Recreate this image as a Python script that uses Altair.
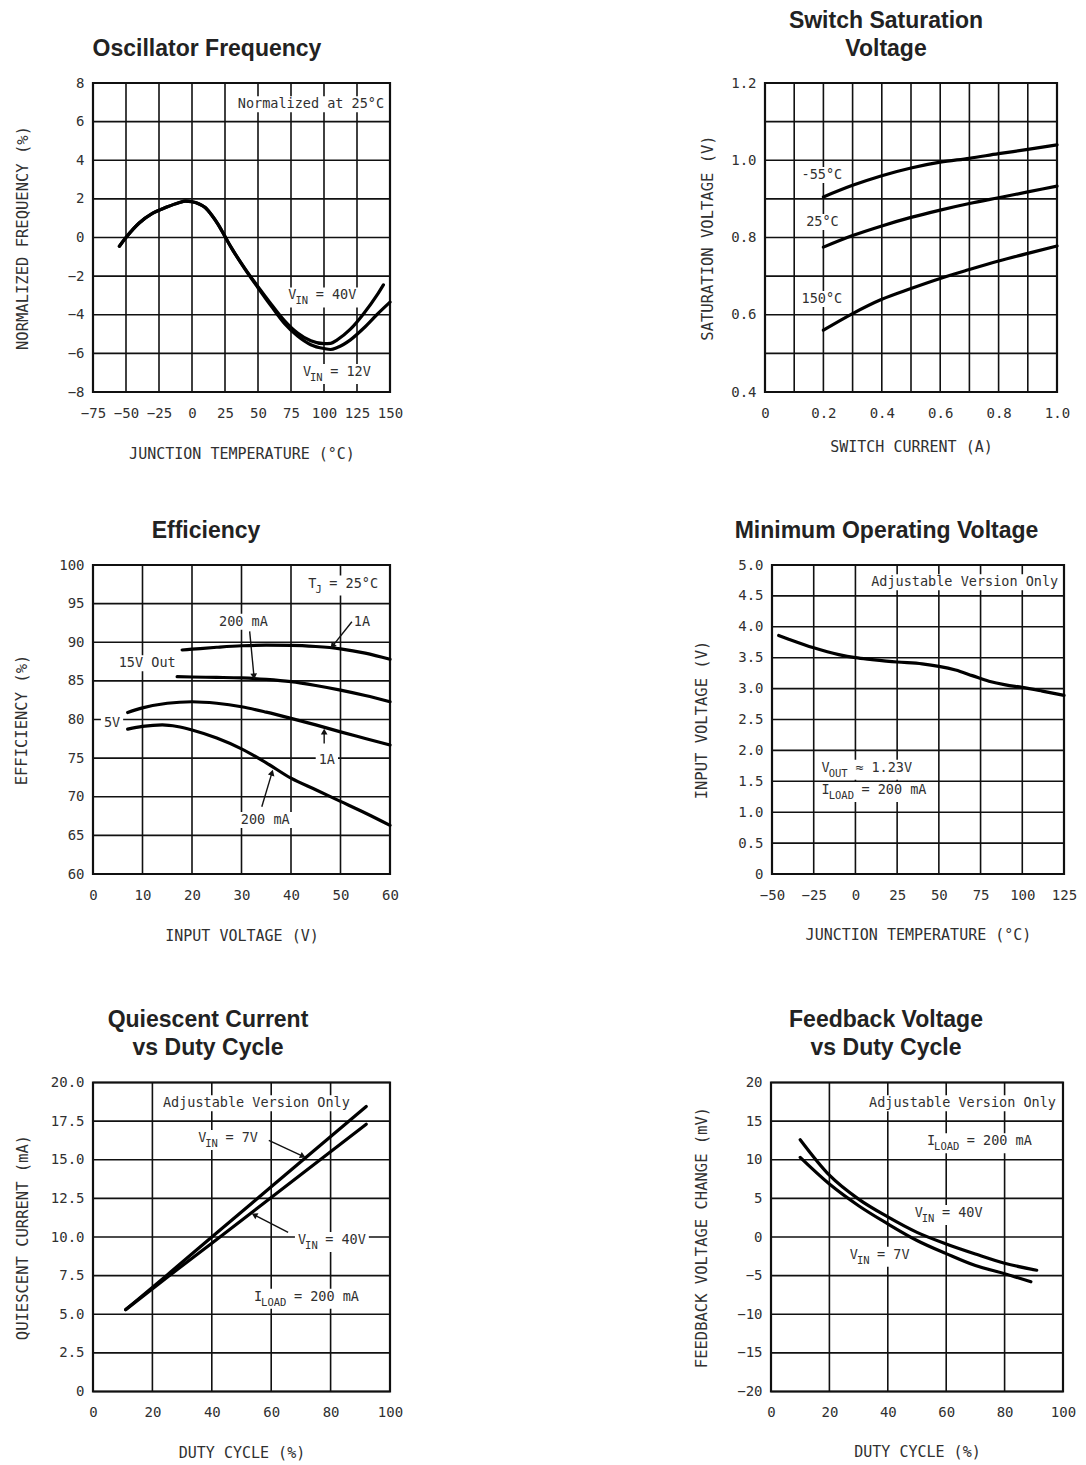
import math
import altair as alt
import pandas as pd

H = 309
WL, WR = 297, 292
MONO = "DejaVu Sans Mono"
SANS = "Liberation Sans"
INK = "#111111"
TXT = "#303030"
TS, SS = 13.5, 10.5
CW, CWS = 0.602 * TS, 0.602 * SS

# ---------------- data ----------------
# Oscillator Frequency
OSC_X_40V = [-55, -50, -40, -30, -20, -10, -5, 0, 5, 10, 15, 20, 25, 30, 40, 50, 60, 70, 80, 90, 100, 105, 110, 120, 130, 140, 145]
OSC_Y_40V = [-0.45, 0.0, 0.75, 1.25, 1.55, 1.8, 1.88, 1.85, 1.75, 1.55, 1.15, 0.65, 0.05, -0.55, -1.6, -2.55, -3.45, -4.3, -4.95, -5.35, -5.5, -5.48, -5.3, -4.75, -3.95, -3.0, -2.45]
OSC_X_12V = [-55, -50, -40, -30, -20, -10, -5, 0, 5, 10, 15, 20, 25, 30, 40, 50, 60, 70, 80, 90, 100, 105, 110, 120, 130, 140, 150]
OSC_Y_12V = [-0.45, 0.0, 0.75, 1.25, 1.55, 1.8, 1.88, 1.85, 1.75, 1.55, 1.15, 0.65, 0.05, -0.55, -1.62, -2.6, -3.55, -4.45, -5.1, -5.55, -5.75, -5.8, -5.7, -5.3, -4.7, -4.0, -3.35]

# Switch Saturation Voltage
SAT_I = [0.2, 0.3, 0.4, 0.5, 0.6, 0.7, 0.8, 0.9, 1.0]
SAT_M55 = [0.905, 0.935, 0.96, 0.98, 0.995, 1.005, 1.017, 1.028, 1.04]
SAT_25 = [0.775, 0.805, 0.83, 0.852, 0.871, 0.888, 0.903, 0.918, 0.933]
SAT_150 = [0.56, 0.603, 0.64, 0.668, 0.694, 0.717, 0.739, 0.759, 0.778]

# Efficiency
EFF_V_15_1A = [18, 20, 25, 30, 35, 40, 45, 50, 55, 60]
EFF_15_1A = [89.0, 89.1, 89.35, 89.55, 89.62, 89.6, 89.45, 89.15, 88.6, 87.8]
EFF_V_15_200 = [17, 20, 25, 30, 35, 40, 45, 50, 55, 60]
EFF_15_200 = [85.55, 85.5, 85.45, 85.38, 85.2, 84.9, 84.4, 83.8, 83.1, 82.3]
EFF_V_5_1A = [7, 10, 15, 20, 25, 30, 35, 40, 45, 50, 55, 60]
EFF_5_1A = [80.9, 81.5, 82.1, 82.3, 82.1, 81.65, 80.95, 80.15, 79.3, 78.4, 77.55, 76.7]
EFF_V_5_200 = [7, 10, 14, 17, 20, 25, 30, 35, 40, 45, 50, 55, 60]
EFF_5_200 = [78.75, 79.1, 79.3, 79.1, 78.65, 77.6, 76.2, 74.4, 72.4, 70.9, 69.4, 67.9, 66.3]

# Minimum Operating Voltage
MOV_T = [-46, -40, -25, -10, 0, 10, 25, 40, 50, 60, 70, 80, 90, 100, 112, 125]
MOV_V = [3.86, 3.8, 3.66, 3.55, 3.5, 3.47, 3.43, 3.4, 3.36, 3.3, 3.21, 3.12, 3.06, 3.02, 2.96, 2.89]

# Quiescent Current vs Duty Cycle
QC_D = [11, 25, 40, 60, 92]
QC_7V = [5.3, 7.55, 10.0, 13.25, 18.45]
QC_40V = [5.3, 7.4, 9.6, 12.55, 17.3]

# Feedback Voltage vs Duty Cycle
FB_D_40 = [10, 20, 30, 40, 50, 60, 70, 80, 91]
FB_40V = [12.6, 8.0, 4.9, 2.6, 0.6, -0.9, -2.2, -3.4, -4.3]
FB_D_7 = [10, 20, 30, 40, 50, 60, 70, 80, 89]
FB_7V = [10.3, 6.85, 4.05, 1.7, -0.45, -2.15, -3.7, -4.75, -5.8]

# annotations: plain (x, y, text, align) ; subscripted (x, y, main, sub, rest)
P1_PLAIN = [(145.5, 6.9, "Normalized at 25°C", "right")]
P1_SUBS = [(73, -3.0, "V", "IN", "= 40V"), (84, -6.96, "V", "IN", "= 12V")]
P2_PLAIN = [(0.125, 0.962, "-55°C", "left"), (0.141, 0.84, "25°C", "left"), (0.125, 0.641, "150°C", "left")]
P3_PLAIN = [(30.4, 92.66, "200 mA", "center"), (52.7, 92.66, "1A", "left"),
            (5.2, 87.27, "15V Out", "left"), (2.2, 79.6, "5V", "left"),
            (45.6, 74.76, "1A", "left"), (34.8, 67.0, "200 mA", "center")]
P3_SUBS = [(43.5, 97.6, "T", "J", "= 25°C")]
P3_ARROWS = [(31.65, 91.4, 32.5, 85.7), (52.3, 92.66, 48.5, 89.6),
             (46.7, 76.9, 46.7, 78.3), (34.1, 68.7, 36.1, 73.0)]
P4_PLAIN = [(121.5, 4.72, "Adjustable Version Only", "right")]
P4_SUBS = [(-20.3, 1.72, "V", "OUT", "≈ 1.23V"), (-20.3, 1.36, "I", "LOAD", "= 200 mA")]
P5_PLAIN = [(55, 18.65, "Adjustable Version Only", "center")]
P5_SUBS = [(35.4, 16.4, "V", "IN", "= 7V"), (69, 9.8, "V", "IN", "= 40V"), (54.2, 6.13, "I", "LOAD", "= 200 mA")]
P5_ARROWS = [(59.2, 16.25, 70.4, 15.25), (65.7, 10.3, 54.6, 11.4)]
P6_PLAIN = [(97.6, 17.3, "Adjustable Version Only", "right")]
P6_SUBS = [(53.4, 12.4, "I", "LOAD", "= 200 mA"), (49.2, 3.1, "V", "IN", "= 40V"), (27, -2.3, "V", "IN", "= 7V")]


def steps(a, b, s, nd=2):
    n = int(round((b - a) / s))
    return [round(a + i * s, nd) for i in range(n + 1)]


def series_df(pairs):
    frames = [pd.DataFrame({"x": xs, "y": ys, "s": name}) for name, xs, ys in pairs]
    return pd.concat(frames, ignore_index=True)


def label_items(plain, subs):
    items = []
    for x, y, t, align in plain:
        items.append(dict(x=x, y=y, t=t, align=align, dx=0, dy=0, size=TS))
    for x, y, main, sub, rest in subs:
        items.append(dict(x=x, y=y, t=main, align="left", dx=0, dy=0, size=TS))
        items.append(dict(x=x, y=y, t=sub, align="left", dx=len(main) * CW - 1, dy=6, size=SS))
        items.append(dict(x=x, y=y, t=rest, align="left",
                          dx=len(main) * CW + len(sub) * CWS + 0.8 * CW, dy=0, size=TS))
    return items


def box_rows(plain, subs, xdom, ydom, W):
    kx = (xdom[1] - xdom[0]) / W
    ky = (ydom[1] - ydom[0]) / H
    rows = []
    for x, y, t, align in plain:
        w = len(t) * CW
        if align == "left":
            l, r = 0, w
        elif align == "right":
            l, r = -w, 0
        else:
            l, r = -w / 2, w / 2
        rows.append(dict(x=x + (l - 3) * kx, x2=x + (r + 3) * kx, y=y - 8 * ky, y2=y + 8 * ky))
    for x, y, main, sub, rest in subs:
        w = len(main) * CW + len(sub) * CWS + 0.8 * CW + len(rest) * CW
        rows.append(dict(x=x - 3 * kx, x2=x + (w + 3) * kx, y=y - 12 * ky, y2=y + 8 * ky))
    return rows


def panel(title, tdx, W, pairs, xdom, ydom, xvals, yvals, xtitle, ytitle, ytx, xty,
          xlab=None, ylab=None, plain=(), subs=(), arrows=()):
    xs = alt.Scale(domain=xdom, nice=False, zero=False)
    ys = alt.Scale(domain=ydom, nice=False, zero=False)
    xkw = dict(values=xvals, title=xtitle, titleX=W / 2, titleY=xty, titleBaseline="middle", labelPadding=14)
    ykw = dict(values=yvals, title=ytitle, titleX=ytx, titleY=H / 2, titleBaseline="middle", labelPadding=9,
               titleFontSize=15.5)
    if xlab:
        xkw["labelExpr"] = xlab
    if ylab:
        ykw["labelExpr"] = ylab
    xaxis = alt.Axis(**xkw)
    yaxis = alt.Axis(**ykw)

    def X(f):
        return alt.X(f, scale=xs, axis=xaxis)

    def Y(f):
        return alt.Y(f, scale=ys, axis=yaxis)

    # grid drawn as rules so that label boxes can mask it
    vgrid = alt.Chart(pd.DataFrame({"v": xvals})).mark_rule(color=INK, strokeWidth=1.6).encode(
        x=X("v:Q"), y=alt.value(0), y2=alt.value(H))
    hgrid = alt.Chart(pd.DataFrame({"v": yvals})).mark_rule(color=INK, strokeWidth=1.6).encode(
        y=Y("v:Q"), x=alt.value(0), x2=alt.value(W))
    layers = [vgrid, hgrid]
    brows = box_rows(plain, subs, xdom, ydom, W)
    if brows:
        layers.append(alt.Chart(pd.DataFrame(brows)).mark_rect(color="white", opacity=1).encode(
            x=X("x:Q"), x2="x2:Q", y=Y("y:Q"), y2="y2:Q"))
    texts = []
    for it in label_items(plain, subs):
        df = pd.DataFrame({"x": [it["x"]], "y": [it["y"]], "t": [it["t"]]})
        enc = dict(x=X("x:Q"), y=Y("y:Q"), text=alt.Text("t:N"))
        kw = dict(font=MONO, fontSize=it["size"], align=it["align"], baseline="middle", dx=it["dx"], dy=it["dy"])
        texts.append(alt.Chart(df).mark_text(color=TXT, **kw).encode(**enc))
    lines = alt.Chart(series_df(pairs)).mark_line(color="black", strokeWidth=3.2, interpolate="monotone",
                                                  strokeCap="round").encode(
        x=X("x:Q"), y=Y("y:Q"), detail="s:N")
    layers.append(lines)
    if arrows:
        rows = []
        for x1, y1, x2, y2 in arrows:
            dxp = (x2 - x1) / (xdom[1] - xdom[0]) * W
            dyp = -(y2 - y1) / (ydom[1] - ydom[0]) * H
            ang = math.degrees(math.atan2(dxp, -dyp)) % 360
            rows.append(dict(x=x1, y=y1, x2=x2, y2=y2, a=ang))
        adf = pd.DataFrame(rows)
        rules = alt.Chart(adf).mark_rule(color=INK, strokeWidth=1.4).encode(
            x=X("x:Q"), y=Y("y:Q"), x2="x2:Q", y2="y2:Q")
        heads = alt.Chart(adf).mark_point(shape="triangle", filled=True, size=45, color=INK, opacity=1).encode(
            x=X("x2:Q"), y=Y("y2:Q"), angle=alt.Angle("a:Q", scale=None))
        layers += [rules, heads]
    layers += texts
    return alt.layer(*layers).properties(
        width=W, height=H, title=alt.TitleParams(text=title, dx=tdx, frame="group"))


ZERO_1F = "datum.value == 0 ? '0' : format(datum.value, '.1f')"
EVEN_X = "(round(datum.value*10) % 2 == 0) ? (datum.value == 0 ? '0' : format(datum.value, '.1f')) : ''"
EVEN_Y = "(round(datum.value*10) % 2 == 0) ? format(datum.value, '.1f') : ''"

p1 = panel([" ", "Oscillator Frequency"], -34.5, WL,
           [("40V", OSC_X_40V, OSC_Y_40V), ("12V", OSC_X_12V, OSC_Y_12V)],
           [-75, 150], [-8, 8], steps(-75, 150, 25), steps(-8, 8, 2),
           "JUNCTION TEMPERATURE (°C)", "NORMALIZED FREQUENCY (%)", -71, 61,
           plain=P1_PLAIN, subs=P1_SUBS)
p2 = panel(["Switch Saturation", "Voltage"], -25, WR,
           [("-55", SAT_I, SAT_M55), ("25", SAT_I, SAT_25), ("150", SAT_I, SAT_150)],
           [0, 1], [0.4, 1.2], steps(0, 1, 0.1), steps(0.4, 1.2, 0.1),
           "SWITCH CURRENT (A)", "SATURATION VOLTAGE (V)", -58, 54,
           xlab=EVEN_X, ylab=EVEN_Y, plain=P2_PLAIN)
p3 = panel([" ", "Efficiency"], -35.5, WL,
           [("a", EFF_V_15_1A, EFF_15_1A), ("b", EFF_V_15_200, EFF_15_200),
            ("c", EFF_V_5_1A, EFF_5_1A), ("d", EFF_V_5_200, EFF_5_200)],
           [0, 60], [60, 100], steps(0, 60, 10), steps(60, 100, 5),
           "INPUT VOLTAGE (V)", "EFFICIENCY (%)", -72, 61,
           plain=P3_PLAIN, subs=P3_SUBS, arrows=P3_ARROWS)
p4 = panel([" ", "Minimum Operating Voltage"], -31.5, WR,
           [("v", MOV_T, MOV_V)],
           [-50, 125], [0, 5], steps(-50, 125, 25), steps(0, 5, 0.5),
           "JUNCTION TEMPERATURE (°C)", "INPUT VOLTAGE (V)", -71, 60,
           ylab=ZERO_1F, plain=P4_PLAIN, subs=P4_SUBS)
p5 = panel(["Quiescent Current", "vs Duty Cycle"], -33.5, WL,
           [("7V", QC_D, QC_7V), ("40V", QC_D, QC_40V)],
           [0, 100], [0, 20], steps(0, 100, 20), steps(0, 20, 2.5),
           "DUTY CYCLE (%)", "QUIESCENT CURRENT (mA)", -71, 61,
           ylab=ZERO_1F, plain=P5_PLAIN, subs=P5_SUBS, arrows=P5_ARROWS)
p6 = panel(["Feedback Voltage", "vs Duty Cycle"], -31, WR,
           [("40V", FB_D_40, FB_40V), ("7V", FB_D_7, FB_7V)],
           [0, 100], [-20, 20], steps(0, 100, 20), steps(-20, 20, 5),
           "DUTY CYCLE (%)", "FEEDBACK VOLTAGE CHANGE (mV)", -70, 60,
           plain=P6_PLAIN, subs=P6_SUBS)

row1 = alt.hconcat(p1, p2, spacing=294)
row2 = alt.hconcat(p3, p4, spacing=292)
row3 = alt.hconcat(p5, p6, spacing=288)

chart = alt.vconcat(row1, alt.vconcat(row2, row3, spacing=62.5), spacing=27).configure(
    background="white", padding={"left": 4, "top": 0, "right": 0, "bottom": 0}
).configure_view(
    stroke=INK, strokeWidth=2.2
).configure_axis(
    grid=False, domain=False, ticks=False,
    labelFont=MONO, labelFontSize=14, labelColor=TXT, labelOverlap=False, labelFlush=False,
    titleFont=MONO, titleFontSize=15, titleFontWeight="normal", titleColor=TXT
).configure_title(
    font=SANS, fontSize=23, fontWeight="bold", color="#222222", lineHeight=28, offset=15.5, anchor="middle"
)

chart.save("out.html", embed_options={"renderer": "svg", "actions": False})
